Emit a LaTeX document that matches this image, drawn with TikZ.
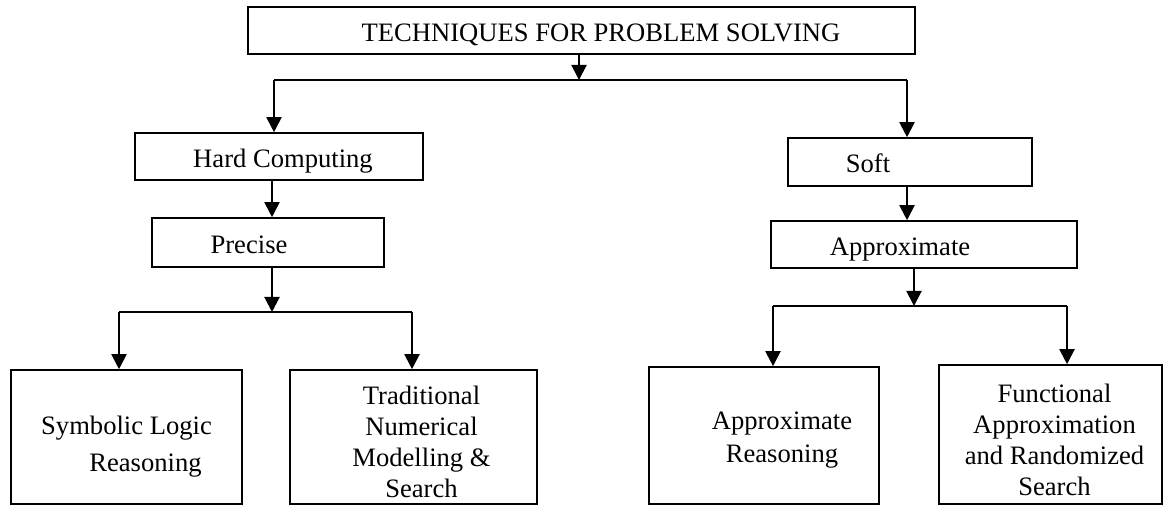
\documentclass[tikz,border=0pt]{standalone}
\usepackage{fontspec}
\setmainfont{Liberation Serif}
\usetikzlibrary{shapes}
\usetikzlibrary{positioning}
\usetikzlibrary{arrows.meta}
\tikzset{
    mybox/.style = {rectangle, draw=black, line width=0.8pt, inner sep=0pt, align=center, font=\fontsize{13.3}{15.5}\selectfont, text=black},
    mylow/.style = {text height=14pt, text depth=3pt}, % text sits low
    edgea/.style = {-{Triangle[length=7.5pt,width=7.5pt]}, line width=1pt, black}, % arrow
    edgel/.style = {-, line width=0.6pt, black}, % bus line
}

\begin{document}
\begin{tikzpicture}[x=0.5pt, y=-0.5pt]
  \useasboundingbox (0,0) rectangle (1166,507);
  % boxes
  \node[mybox, mylow, minimum width=333.5pt, minimum height=23.5pt] (title) at (581.5,30.5) {\hspace*{19.5pt}TECHNIQUES FOR PROBLEM SOLVING};
  \node[mybox, mylow, minimum width=144pt, minimum height=23.5pt] (hard) at (279,156.5) {\hspace*{4pt}Hard Computing};
  \node[mybox, mylow, minimum width=116pt, minimum height=24.5pt] (precise) at (268,242.5) {Precise\hspace*{19pt}};
  \node[mybox, minimum width=115.5pt, minimum height=67pt] (symbolic) at (126.5,437) {\rule{0pt}{19pt}Symbolic Logic\\[3pt]\hspace*{19pt}Reasoning};
  \node[mybox, minimum width=123.5pt, minimum height=67pt] (traditional) at (413.5,437) {\rule{0pt}{14.5pt}\hspace*{8pt}Traditional\\\hspace*{8pt}Numerical\\\hspace*{8pt}Modelling \&\\\hspace*{8pt}Search};
  \node[mybox, mylow, minimum width=122pt, minimum height=24pt] (soft) at (910,162) {Soft\hspace*{42pt}};
  \node[mybox, mylow, minimum width=153pt, minimum height=23.5pt] (approx) at (924,244.5) {Approximate\hspace*{24pt}};
  \node[mybox, minimum width=115pt, minimum height=68.5pt] (apreason) at (764,435.5) {\rule{0pt}{13.5pt}\hspace*{18pt}Approximate\\[1pt]\hspace*{18pt}Reasoning};
  \node[mybox, minimum width=111.5pt, minimum height=69.5pt] (functional) at (1050.5,434.5) {\rule{0pt}{14.5pt}\hspace*{4pt}Functional\\\hspace*{4pt}Approximation\\\hspace*{4pt}and Randomized\\\hspace*{4pt}Search};
  % bus points
  \coordinate (bus1l) at (274,80);
  \coordinate (bus1m) at (579,80);
  \coordinate (bus1r) at (907,80);
  \coordinate (bus2l) at (119,312);
  \coordinate (bus2m) at (272,312);
  \coordinate (bus2r) at (412,312);
  \coordinate (bus3l) at (773,306);
  \coordinate (bus3m) at (914,306);
  \coordinate (bus3r) at (1067,306);
  % top level
  \draw[edgea] (title.south -| bus1m) -- (bus1m);
  \draw[edgel] (bus1l) -- (bus1r);
  \draw[edgea] (bus1l) -- (bus1l |- hard.north);
  \draw[edgea] (bus1r) -- (bus1r |- soft.north);
  % hard side
  \draw[edgea] (hard.south -| bus2m) -- (bus2m |- precise.north);
  \draw[edgea] (precise.south -| bus2m) -- (bus2m);
  \draw[edgel] (bus2l) -- (bus2r);
  \draw[edgea] (bus2l) -- (bus2l |- symbolic.north);
  \draw[edgea] (bus2r) -- (bus2r |- traditional.north);
  % soft side
  \draw[edgea] (soft.south -| bus1r) -- (bus1r |- approx.north);
  \draw[edgea] (approx.south -| bus3m) -- (bus3m);
  \draw[edgel] (bus3l) -- (bus3r);
  \draw[edgea] (bus3l) -- (bus3l |- apreason.north);
  \draw[edgea] (bus3r) -- (bus3r |- functional.north);
\end{tikzpicture}
\end{document}
